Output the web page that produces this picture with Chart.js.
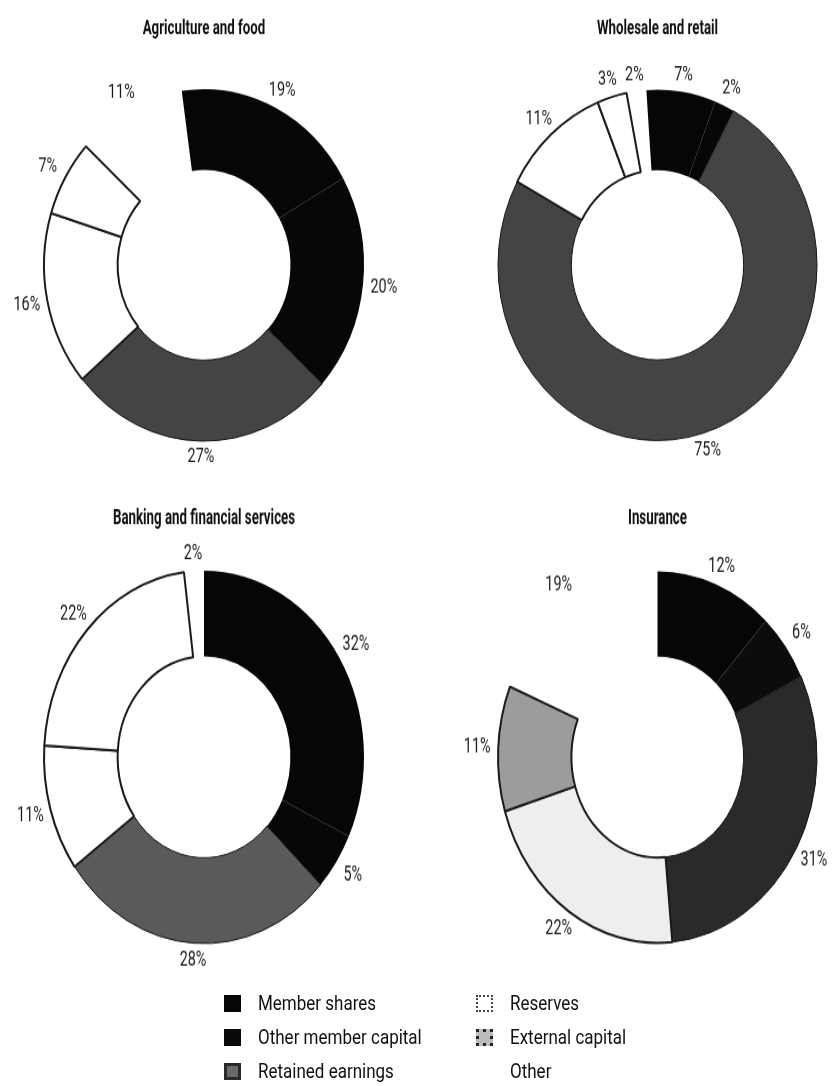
<!DOCTYPE html>
<html>
<head>
<meta charset="utf-8">
<script src="https://cdn.jsdelivr.net/npm/chart.js@4.4.0/dist/chart.umd.min.js"></script>
<style>
  body { margin:0; width:833px; height:1086px; background:#fff; position:relative; overflow:hidden;
         font-family:Roboto,"Liberation Sans",sans-serif; }
  .pane { position:absolute; transform-origin:0 0; }
  .top { transform:scaleY(1.1); }
  .bottom { transform:scaleY(1.165); }
  #legend { position:absolute; left:224px; top:986px; display:grid; grid-template-columns:252px 200px;
            grid-template-rows:repeat(3,34px); grid-auto-flow:column; font-size:20px; color:#111; }
  .item { display:flex; align-items:center; white-space:nowrap; }
  .sw { width:17px; height:17px; margin-right:17px; box-sizing:border-box; flex:none; }
  .tx { display:inline-block; transform:scaleX(0.85); transform-origin:0 50%; }
</style>
</head>
<body>
<div class="pane top" style="left:0;top:0"><canvas id="c0" width="416" height="430"></canvas></div>
<div class="pane top" style="left:416px;top:0"><canvas id="c1" width="417" height="430"></canvas></div>
<div class="pane bottom" style="left:0;top:488px"><canvas id="c2" width="416" height="430"></canvas></div>
<div class="pane bottom" style="left:416px;top:488px"><canvas id="c3" width="417" height="430"></canvas></div>
<div id="legend"></div>
<script>
// ------------------------
// DATA
// ------------------------
const categories = ['Member shares', 'Other member capital', 'Retained earnings', 'Reserves', 'External capital', 'Other'];
const chartTitles = ['Agriculture and food', 'Wholesale and retail', 'Banking and financial services', 'Insurance'];
const agricultureValues = [19, 20, 27, 16, 7, 11];
const wholesaleValues = [7, 2, 75, 11, 3, 2];
const bankingValues = [32, 5, 28, 11, 22, 2];
const insuranceValues = [12, 6, 31, 22, 11, 19];

const FONT = 'Roboto,"Liberation Sans",sans-serif';

// fills per chart (scan shades differ a bit)
const fillsTop = ['#060606', '#070707', '#444444', '#ffffff', '#ffffff', 'rgba(0,0,0,0)'];
const fillsBank = ['#060606', '#070707', '#5a5a5a', '#ffffff', '#ffffff', 'rgba(0,0,0,0)'];
const fillsIns = ['#060606', '#0c0c0c', '#2a2a2a', '#eeeeee', '#9c9c9c', 'rgba(0,0,0,0)'];
const borders = ['#000', '#000', '#151515', '#1a1a1a', '#1a1a1a', 'rgba(0,0,0,0)'];
const borderWidths = [0, 0, 1, 2, 2, 0];

// ------------------------
// TITLE + PERCENT LABELS (condensed look)
// ------------------------
const pctLabels = {
  id: 'pctLabels',
  afterDatasetsDraw(chart, args, opts) {
    const ctx = chart.ctx;
    const meta = chart.getDatasetMeta(0);
    const vals = chart.data.datasets[0].data;
    const area = chart.chartArea;

    ctx.save();
    ctx.fillStyle = '#111';
    ctx.textAlign = 'center';
    ctx.textBaseline = 'middle';

    // title
    ctx.save();
    ctx.font = 'bold 19px ' + FONT;
    ctx.translate((area.left + area.right) / 2, 26);
    ctx.scale(0.7, 1);
    ctx.fillText(opts.title, 0, 0);
    ctx.restore();

    // labels
    ctx.font = '18px ' + FONT;
    ctx.fillStyle = '#1a1a1a';
    meta.data.forEach((arc, i) => {
      const p = arc.getProps(['x', 'y', 'startAngle', 'endAngle', 'outerRadius'], true);
      const mid = (p.startAngle + p.endAngle) / 2;
      const r = p.outerRadius + 14 + 7 * Math.abs(Math.cos(mid));
      ctx.save();
      ctx.translate(p.x + Math.cos(mid) * r, p.y + Math.sin(mid) * r);
      ctx.scale(0.8, 1);
      ctx.fillText(vals[i] + '%', 0, 0);
      ctx.restore();
    });
    ctx.restore();
  }
};

function makeChart(id, title, values, fills, rotation, pad) {
  return new Chart(document.getElementById(id), {
    type: 'doughnut',
    data: {
      labels: categories,
      datasets: [{
        data: values,
        backgroundColor: fills,
        borderColor: borders,
        borderWidth: borderWidths,
        hoverOffset: 0
      }]
    },
    options: {
      responsive: false,
      animation: false,
      cutout: '54%',
      rotation: rotation,
      layout: { padding: pad },
      plugins: {
        legend: { display: false },
        tooltip: { enabled: false },
        pctLabels: { title: title }
      }
    },
    plugins: [pctLabels]
  });
}

makeChart('c0', chartTitles[0], agricultureValues, fillsTop, -8, { top: 80, left: 43, right: 51, bottom: 28 });
makeChart('c1', chartTitles[1], wholesaleValues, fillsTop, -4, { top: 80, left: 81, right: 15, bottom: 28 });
makeChart('c2', chartTitles[2], bankingValues, fillsBank, 0, { top: 70, left: 43, right: 51, bottom: 38 });
makeChart('c3', chartTitles[3], insuranceValues, fillsIns, 0, { top: 70, left: 81, right: 15, bottom: 38 });

// ------------------------
// LEGEND (shared)
// ------------------------
const swatchStyles = [
  'background:#060606',
  'background:#0a0a0a',
  'background:#6a6a6a;border:3px solid #2a2a2a',
  'background:#fff;border:2px dotted #444',
  'background:#bbb;border:3px dotted #222',
  'background:transparent'
];
const legend = document.getElementById('legend');
categories.forEach((c, i) => {
  const d = document.createElement('div');
  d.className = 'item';
  d.innerHTML = `<span class="sw" style="${swatchStyles[i]}"></span><span class="tx">${c}</span>`;
  legend.appendChild(d);
});
</script>
</body>
</html>
